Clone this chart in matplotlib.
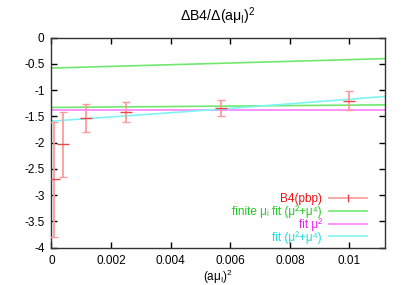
import matplotlib
matplotlib.use("Agg")
from matplotlib import pyplot as plt
from matplotlib.lines import Line2D

# data
mu2 = [0.0001, 0.0004, 0.00116, 0.0025, 0.0057, 0.01]
b4 = [-2.70, -2.03, -1.53, -1.42, -1.34, -1.20]
b4_err = [1.10, 0.62, 0.27, 0.19, 0.16, 0.18]

fit_x = [0.0, 0.0112]
finite_fit = [-0.58, -0.40]
fit_mu2_lower = [-1.33, -1.28]
fit_mu2 = [-1.37, -1.37]
fit_x4 = [0.0, 0.0055, 0.0112]
fit_mu24 = [-1.59, -1.37, -1.12]

x_ticks = [0, 0.002, 0.004, 0.006, 0.008, 0.01]
x_tick_labels = ["0", "0.002", "0.004", "0.006", "0.008", "0.01"]
y_ticks = [0, -0.5, -1, -1.5, -2, -2.5, -3, -3.5, -4]
y_tick_labels = ["0", "-0.5", "-1", "-1.5", "-2", "-2.5", "-3", "-3.5", "-4"]

plt.rcParams["font.family"] = ["Liberation Sans", "DejaVu Sans"]
plt.rcParams["mathtext.fontset"] = "custom"
plt.rcParams["mathtext.rm"] = "Liberation Sans"
plt.rcParams["mathtext.it"] = "Liberation Sans"
plt.rcParams["font.size"] = 8.5

fig = plt.figure(figsize=(4.07, 2.85), dpi=100)
ax = fig.add_axes([0.1265, 0.131, 0.82, 0.737])

red_line = "#ff9a9a"
red_cap = "#e84848"
green = "#70e870"
magenta = "#ff90ff"
cyan = "#80f4f4"

eb = ax.errorbar(mu2, b4, yerr=b4_err, fmt="_", color=red_cap, ms=8, mew=1.0,
                 ecolor=red_line, elinewidth=1.3, capsize=3, capthick=1.0,
                 zorder=3)
for cap in eb[1]:
    cap.set_color(red_cap)

ax.plot(fit_x, finite_fit, color=green, lw=1.2, zorder=2)
ax.plot(fit_x, fit_mu2_lower, color=green, lw=1.2, zorder=2)
ax.plot(fit_x, fit_mu2, color=magenta, lw=1.4, zorder=2)
ax.plot(fit_x4, fit_mu24, color=cyan, lw=1.2, zorder=2)

ax.set_xlim(0, 0.0112)
ax.set_ylim(-4, 0)
ax.set_xticks(x_ticks)
ax.set_xticklabels(x_tick_labels)
ax.set_yticks(y_ticks)
ax.set_yticklabels(y_tick_labels)
ax.tick_params(direction="in", length=4, width=1, top=True, right=True,
               pad=5, colors="black")
for sp in ax.spines.values():
    sp.set_linewidth(1.0)
    sp.set_color("#333333")

ax.set_xlabel(r"(a$\mu_{\mathrm{I}}$)$^2$", labelpad=1)
ax.set_title(r"$\Delta$B4/$\Delta$(a$\mu_{\mathrm{I}}$)$^2$", pad=12)

handles = [
    Line2D([], [], color=red_line, lw=1.2, marker="|", ms=6, mec=red_cap),
    Line2D([], [], color=green, lw=1.2),
    Line2D([], [], color=magenta, lw=1.4),
    Line2D([], [], color=cyan, lw=1.2),
]
labels = [
    "B4(pbp)",
    "finite μᵢ fit (μ²+μ⁴)",
    "fit μ²",
    "fit (μ²+μ⁴)",
]
text_colors = ["#ee1111", "#22cc22", "#ee22ee", "#22dddd"]
leg = ax.legend(handles, labels, loc="lower right", bbox_to_anchor=(0.97, -0.02),
                frameon=False, markerfirst=False, handlelength=3.2,
                handletextpad=0.6, labelspacing=0.0, borderpad=0.2,
                fontsize=8.5)
for t, c in zip(leg.get_texts(), text_colors):
    t.set_color(c)

fig.savefig("out.png", dpi=100)
